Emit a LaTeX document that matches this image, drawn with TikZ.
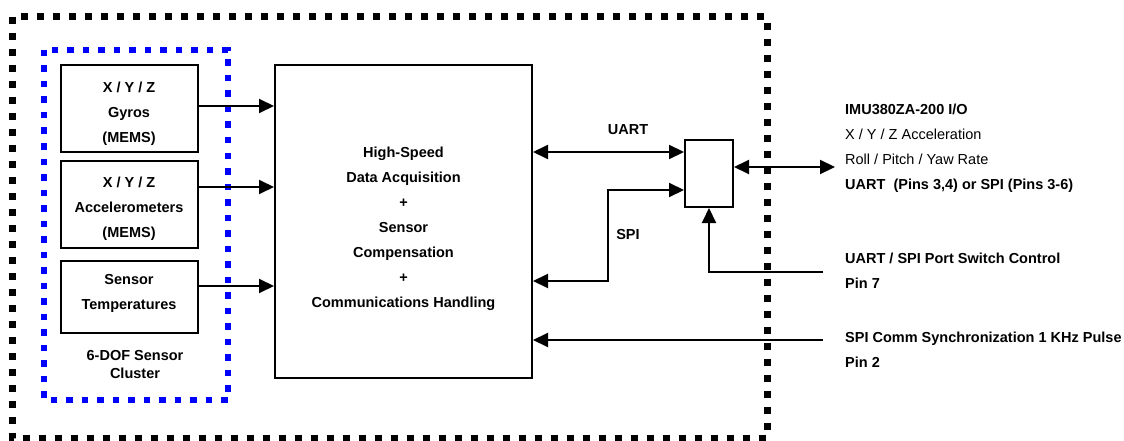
\documentclass[tikz,border=0pt]{standalone}
\usepackage{fontspec}
\setmainfont{Liberation Sans}
\usepackage{tikz}
\usetikzlibrary{arrows.meta, positioning, calc}
\definecolor{clusterblue}{RGB}{0,0,255}
\newcommand{\dropby}[1]{\rule{0pt}{#1}}
\tikzset{
  sensor/.style={rectangle, draw, line width=2pt, minimum width=137pt,
    align=center, inner sep=0pt},
  core/.style={rectangle, draw, line width=2pt, minimum width=257pt,
    minimum height=313pt, align=center},
  mux/.style={rectangle, draw, line width=2pt, minimum width=48pt,
    minimum height=67pt, inner sep=0pt},
  pinlabel/.style={anchor=west, align=left, inner xsep=0pt},
  textlift/.style={execute at end node={\rule[-#1]{0pt}{0pt}}},
  outerframe/.style={line width=7pt, dash pattern=on 7pt off 9pt},
  clusterframe/.style={clusterblue, line width=6.5pt, dash pattern=on 6.5pt off 9pt},
  arr/.style={-{Triangle[length=15pt, width=14pt]}, line width=2pt},
  biarr/.style={{Triangle[length=15pt, width=14pt]}-{Triangle[length=15pt, width=14pt]}, line width=2pt},
}
\begin{document}
\begin{tikzpicture}[x=1pt, y=-1pt, font=\fontsize{14.5}{25}\selectfont\bfseries]

\fill[white] (0,0) rectangle (1124,441);
\useasboundingbox (0,0) rectangle (1124,441);

% Frames
\draw[outerframe] (12,17) rectangle (767,438);
\draw[clusterframe] (44,50) rectangle (228,400);

% Sensor cluster
\node[sensor, minimum height=87pt] (gyro) at (129,108.5) {\dropby{22pt}X / Y / Z\\Gyros\\(MEMS)};
\node[sensor, minimum height=87pt, below=7pt of gyro] (accel) {\dropby{18.5pt}X / Y / Z\\Accelerometers\\(MEMS)};
\node[sensor, minimum height=72pt, textlift=9.5pt, below=11pt of accel] (temp) {Sensor\\Temperatures};
\node[align=center, font=\fontsize{14.5}{18}\selectfont\bfseries] (clusterlbl) at (135,365) {6-DOF Sensor\\Cluster};

% Processing and port switch
\node[core] (dsp) at (403.5,221.5) {\dropby{25.5pt}High-Speed\\Data Acquisition\\+\\Sensor\\Compensation\\+\\Communications Handling};
\node[mux] (switch) at (709,173.5) {};

\coordinate (spibend) at (608,281);
\coordinate (ioend) at (835,167);
\coordinate (ctrlend) at (823,272);
\coordinate (syncend) at (823,340);

\draw[arr] ([yshift=2.5pt]gyro.east) -- ([yshift=2.5pt]gyro.east -| dsp.west);
\draw[arr] ([yshift=17.5pt]accel.east) -- ([yshift=17.5pt]accel.east -| dsp.west);
\draw[arr] ([yshift=11pt]temp.east) -- ([yshift=11pt]temp.east -| dsp.west);

\draw[biarr] ([yshift=21.5pt]switch.west) -- ([yshift=21.5pt]switch.west -| dsp.east);
\node (uartlbl) at (628,130) {UART};
\draw[biarr] ([yshift=-16.5pt]switch.west) -| (spibend) -- (spibend -| dsp.east);
\node (spilbl) at (628,235) {SPI};

\draw[biarr] (switch.east |- ioend) -- (ioend);
\draw[arr] (ctrlend) -| (switch.south);
\draw[arr] (syncend) -- (syncend -| dsp.east);

% Pin descriptions
\node[pinlabel] (iolbl) at (845,148.5) {IMU380ZA-200 I/O\\{\mdseries X / Y / Z Acceleration}\\{\mdseries Roll / Pitch / Yaw Rate}\\UART\ \ (Pins 3,4) or SPI (Pins 3-6)};
\node[pinlabel] (ctrllbl) at (845,270.5) {UART / SPI Port Switch Control\\Pin 7};
\node[pinlabel] (synclbl) at (845,349.5) {SPI Comm Synchronization 1 KHz Pulse\\Pin 2};

\end{tikzpicture}
\end{document}
